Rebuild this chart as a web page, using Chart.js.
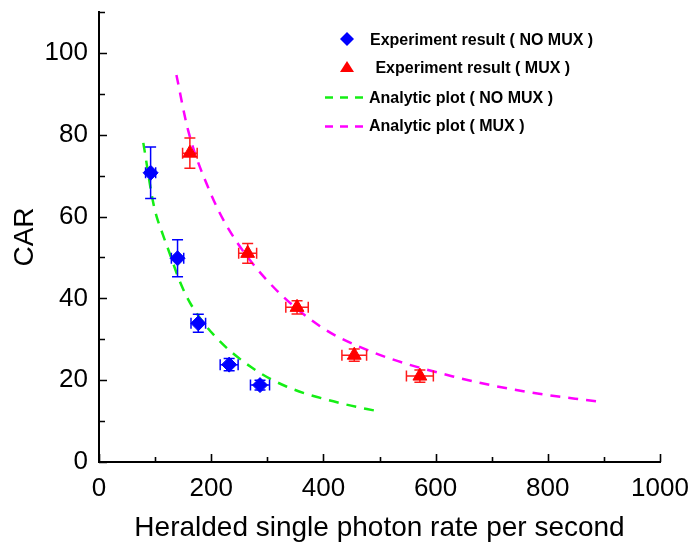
<!DOCTYPE html>
<html><head><meta charset="utf-8">
<script src="https://cdn.jsdelivr.net/npm/chart.js@4/dist/chart.umd.min.js"></script>
<style>html,body{margin:0;padding:0;background:#fff}</style>
</head><body>
<canvas id="c" width="691" height="545"></canvas>
<script>
// ---- data ----
const noMuxX    = [92, 140, 177, 232, 287];
const noMuxY    = [70.7, 49.8, 33.9, 23.8, 18.8];
const noMuxXErr = [9, 11, 13, 16, 17];
const noMuxYErr = [6.3, 4.5, 2.2, 1.5, 1.2];

const muxX    = [162, 265, 353, 455, 572];
const muxY    = [75.5, 51, 37.8, 26.1, 21];
const muxXErr = [13, 16, 20, 22, 24];
const muxYErr = [3.7, 2.4, 1.6, 1.5, 1.5];

const fitNoMuxX = [79, 98, 114, 122, 146, 164, 205, 271, 335, 430, 501];
const fitNoMuxY = [78, 62.5, 55.5, 52.5, 43.5, 38.5, 31, 23.2, 18.4, 14.4, 12.3];
const fitMuxX = [138, 159, 198, 233, 299, 394, 489, 631, 760, 893];
const fitMuxY = [94.6, 81, 66, 56.5, 44.5, 33.2, 26.8, 20.9, 17.2, 14.7];

const xTicks = [0, 200, 400, 600, 800, 1000];
const yTicks = [0, 20, 40, 60, 80, 100];
const labels = ['Experiment result ( NO MUX )', ' Experiment result ( MUX )', 'Analytic plot ( NO MUX )', 'Analytic plot ( MUX )'];
// ---------------------------------------

const pts = (xs, ys) => xs.map((v, i) => ({x: v, y: ys[i]}));
const FONT = "'Liberation Sans', Arial, sans-serif";

const errorBars = {
  id: 'errorBars',
  beforeDatasetDraw(chart, args) {
    const ds = chart.data.datasets[args.index];
    if (!ds.errX) return;
    const {ctx} = chart, xs = chart.scales.x, ys = chart.scales.y;
    const cap = 5.5;
    ctx.save();
    ctx.strokeStyle = ds.errColor;
    ctx.lineWidth = 1.5;
    ds.data.forEach((p, i) => {
      const px = xs.getPixelForValue(p.x), py = ys.getPixelForValue(p.y);
      const x0 = xs.getPixelForValue(p.x - ds.errX[i]), x1 = xs.getPixelForValue(p.x + ds.errX[i]);
      const y0 = ys.getPixelForValue(p.y - ds.errY[i]), y1 = ys.getPixelForValue(p.y + ds.errY[i]);
      ctx.beginPath();
      ctx.moveTo(x0, py); ctx.lineTo(x1, py);
      ctx.moveTo(x0, py - cap); ctx.lineTo(x0, py + cap);
      ctx.moveTo(x1, py - cap); ctx.lineTo(x1, py + cap);
      ctx.moveTo(px, y0); ctx.lineTo(px, y1);
      ctx.moveTo(px - cap, y0); ctx.lineTo(px + cap, y0);
      ctx.moveTo(px - cap, y1); ctx.lineTo(px + cap, y1);
      ctx.stroke();
    });
    ctx.restore();
  }
};

const innerTicks = {
  id: 'innerTicks',
  afterDraw(chart) {
    const {ctx, chartArea: a} = chart, xs = chart.scales.x, ys = chart.scales.y;
    ctx.save();
    ctx.strokeStyle = '#000';
    ctx.lineWidth = 1.6;
    ctx.beginPath();
    for (let v = xs.min; v <= xs.max; v += 100) {
      const px = Math.round(xs.getPixelForValue(v)) + 0.5;
      const len = (v % 200 === 0) ? 8 : 5;
      ctx.moveTo(px, a.bottom); ctx.lineTo(px, a.bottom - len);
    }
    for (let v = ys.min; v <= ys.max; v += 10) {
      const py = Math.round(ys.getPixelForValue(v)) + 0.5;
      const len = (v % 20 === 0) ? 8 : 6;
      ctx.moveTo(a.left, py); ctx.lineTo(a.left + len, py);
    }
    ctx.stroke();
    ctx.restore();
  }
};

const legendBox = {
  id: 'legendBox',
  afterDraw(chart) {
    const {ctx} = chart;
    const d = chart.data.datasets;
    ctx.save();
    ctx.font = 'bold 16px ' + FONT;
    ctx.textBaseline = 'middle';
    ctx.textAlign = 'left';
    // diamond
    ctx.fillStyle = d[0].backgroundColor;
    ctx.beginPath(); ctx.moveTo(347, 32); ctx.lineTo(354, 39); ctx.lineTo(347, 46); ctx.lineTo(340, 39); ctx.closePath(); ctx.fill();
    ctx.fillStyle = '#000';
    ctx.fillText(d[0].label, 370, 41);
    // triangle
    ctx.fillStyle = d[1].backgroundColor;
    ctx.beginPath(); ctx.moveTo(347, 61); ctx.lineTo(354, 72); ctx.lineTo(340, 72); ctx.closePath(); ctx.fill();
    ctx.fillStyle = '#000';
    ctx.fillText(d[1].label, 371, 68.5);
    // dashed lines
    [[2, 97.5, 98.5], [3, 126.5, 127]].forEach(([i, ly, ty]) => {
      ctx.strokeStyle = d[i].borderColor;
      ctx.lineWidth = 2.5;
      ctx.setLineDash([8, 7]);
      ctx.beginPath(); ctx.moveTo(325, ly); ctx.lineTo(368, ly); ctx.stroke();
      ctx.setLineDash([]);
      ctx.fillStyle = '#000';
      ctx.fillText(d[i].label, 369, ty);
    });
    ctx.restore();
  }
};

const zeroPad = s => { s.paddingTop = 0; s.paddingBottom = 0; s.paddingLeft = 0; s.paddingRight = 0; };

new Chart(document.getElementById('c'), {
  type: 'scatter',
  data: {
    datasets: [
      {
        label: labels[0], data: pts(noMuxX, noMuxY), errX: noMuxXErr, errY: noMuxYErr, errColor: '#0000FF',
        pointStyle: 'rectRot', pointRadius: 7.5, backgroundColor: '#0000FF', borderColor: '#0000FF', borderWidth: 1, order: 1
      },
      {
        label: labels[1], data: pts(muxX, muxY), errX: muxXErr, errY: muxYErr, errColor: '#FF1A1A',
        pointStyle: 'triangle', pointRadius: 8, backgroundColor: '#FF0000', borderColor: '#FF0000', borderWidth: 1, order: 2
      },
      {
        label: labels[2], data: pts(fitNoMuxX, fitNoMuxY), showLine: true, pointRadius: 0,
        borderColor: '#14EE14', borderWidth: 2.5, borderDash: [10, 8], cubicInterpolationMode: 'monotone', order: 3
      },
      {
        label: labels[3], data: pts(fitMuxX, fitMuxY), showLine: true, pointRadius: 0,
        borderColor: '#FF00FF', borderWidth: 2.5, borderDash: [10, 8], cubicInterpolationMode: 'monotone', order: 4
      }
    ]
  },
  options: {
    responsive: false,
    animation: false,
    devicePixelRatio: 1,
    layout: {padding: {top: 12, right: 31, left: 0, bottom: 0}},
    plugins: {legend: {display: false}, tooltip: {enabled: false}},
    scales: {
      x: {
        type: 'linear', min: 0, max: 1000,
        afterBuildTicks: s => { s.ticks = xTicks.map(v => ({value: v})); },
        afterFit: s => { s.height = 83; zeroPad(s); },
        grid: {display: false},
        border: {display: true, color: '#000', width: 2},
        ticks: {color: '#000', font: {family: FONT, size: 26}, padding: 3, maxRotation: 0, autoSkip: false, callback: v => String(v)},
        title: {display: true, text: 'Heralded single photon rate per second', color: '#000', font: {family: FONT, size: 28}, padding: {top: 0, bottom: 0}}
      },
      y: {
        type: 'linear', min: 0, max: 110,
        afterBuildTicks: s => { s.ticks = yTicks.map(v => ({value: v})); },
        afterFit: s => { s.width = 99; zeroPad(s); },
        grid: {display: false},
        border: {display: true, color: '#000', width: 2},
        ticks: {color: '#000', font: {family: FONT, size: 26}, padding: 3, autoSkip: false, callback: v => String(v)},
        title: {display: true, text: 'CAR', color: '#000', font: {family: FONT, size: 28}, padding: {top: 8, bottom: 0}}
      }
    }
  },
  plugins: [errorBars, innerTicks, legendBox]
});
</script>
</body></html>
